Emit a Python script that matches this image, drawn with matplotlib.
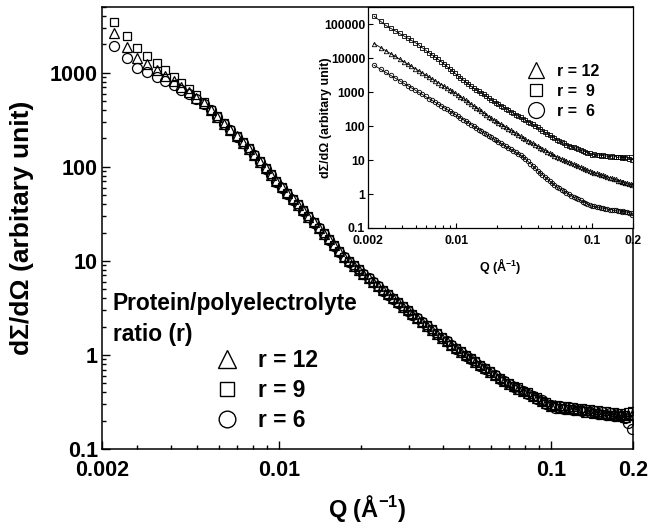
import matplotlib
matplotlib.use('Agg')
import matplotlib.pyplot as plt
from matplotlib.lines import Line2D
from matplotlib.ticker import FixedLocator, NullFormatter, NullLocator, LogLocator

plt.rcParams['font.family'] = ['Liberation Sans', 'DejaVu Sans']
plt.rcParams['font.weight'] = 'bold'
plt.rcParams['mathtext.fontset'] = 'custom'
plt.rcParams['mathtext.rm'] = 'Liberation Sans:bold'
plt.rcParams['mathtext.it'] = 'Liberation Sans:bold'
plt.rcParams['mathtext.bf'] = 'Liberation Sans:bold'

# ---------------- data ----------------
q = [0.00247, 0.00276, 0.00301, 0.00327, 0.00354, 0.00381, 0.00409, 0.00437, 0.00466, 0.00496,
     0.00527, 0.00559, 0.00592, 0.00626, 0.00661, 0.00697, 0.00734, 0.00772, 0.00811, 0.00851,
     0.00892, 0.00934, 0.00977, 0.0102, 0.0107, 0.0112, 0.0117, 0.0122, 0.0128, 0.0134,
     0.0140, 0.0146, 0.0152, 0.0159, 0.0166, 0.0173, 0.0180, 0.0188, 0.0196, 0.0204,
     0.0213, 0.0222, 0.0231, 0.0241, 0.0251, 0.0262, 0.0273, 0.0285, 0.0297, 0.0309,
     0.0322, 0.0336, 0.0350, 0.0365, 0.0380, 0.0396, 0.0413, 0.0430, 0.0448, 0.0467,
     0.0486, 0.0506, 0.0527, 0.0549, 0.0572, 0.0596, 0.0620, 0.0646, 0.0672, 0.0700,
     0.0729, 0.0758, 0.0789, 0.0821, 0.0854, 0.0888, 0.0923, 0.0960, 0.0998, 0.1037,
     0.1077, 0.1118, 0.1161, 0.1205, 0.1250, 0.1296, 0.1343, 0.1391, 0.1440, 0.1490,
     0.1541, 0.1593, 0.1646, 0.1700, 0.1755, 0.1810, 0.1866, 0.1923, 0.1980]

main_r12 = [2670, 1897, 1445, 1239, 1069, 931, 811, 708, 618, 543,
            479, 402, 338, 287, 246, 211, 181, 156, 133, 113,
            96, 82, 70, 60.5, 52.2, 45.2, 39.4, 34.5, 29.6, 25.6,
            22.3, 19.5, 16.9, 14.6, 12.6, 11.0, 9.86, 8.87, 8.04, 7.27,
            6.58, 5.96, 5.40, 4.89, 4.43, 4.00, 3.62, 3.27, 2.97, 2.72,
            2.47, 2.24, 2.04, 1.86, 1.69, 1.53, 1.40, 1.28, 1.175, 1.08,
            0.995, 0.92, 0.847, 0.78, 0.721, 0.664, 0.614, 0.565, 0.527, 0.495,
            0.466, 0.439, 0.413, 0.39, 0.367, 0.352, 0.321, 0.312, 0.286, 0.291,
            0.276, 0.281, 0.266, 0.274, 0.258, 0.265, 0.25, 0.258, 0.243, 0.252,
            0.236, 0.244, 0.229, 0.24, 0.224, 0.236, 0.219, 0.232, 0.228]

main_r9 = [3430, 2430, 1845, 1520, 1268, 1067, 904, 776, 665, 574,
           490, 405, 343, 290, 249, 214, 184, 158, 134, 114,
           97, 83, 71, 61, 52.7, 45.5, 39.8, 34.8, 29.9, 25.8,
           22.5, 19.7, 17.1, 14.7, 12.7, 11.1, 9.95, 8.95, 8.1, 7.33,
           6.63, 6.01, 5.45, 4.93, 4.47, 4.03, 3.65, 3.30, 3.00, 2.74,
           2.49, 2.26, 2.06, 1.88, 1.70, 1.54, 1.41, 1.29, 1.18, 1.09,
           1.00, 0.925, 0.852, 0.786, 0.726, 0.668, 0.618, 0.569, 0.531, 0.498,
           0.47, 0.452, 0.41, 0.40, 0.362, 0.356, 0.322, 0.318, 0.285, 0.296,
           0.274, 0.287, 0.266, 0.279, 0.258, 0.271, 0.251, 0.265, 0.243, 0.258,
           0.236, 0.251, 0.231, 0.246, 0.226, 0.243, 0.232, 0.248, 0.255]

main_r6 = [1905, 1422, 1130, 1012, 912, 826, 745, 662, 590, 527,
           468, 398, 336, 285, 244, 209, 180, 155, 132, 112,
           95, 81, 69, 60, 51.6, 44.8, 39.0, 34.1, 29.3, 25.3,
           22.1, 19.3, 16.7, 14.4, 12.5, 10.9, 9.76, 8.78, 7.96, 7.20,
           6.51, 5.90, 5.35, 4.84, 4.39, 3.96, 3.58, 3.24, 2.94, 2.69,
           2.45, 2.22, 2.02, 1.84, 1.67, 1.52, 1.39, 1.27, 1.16, 1.07,
           0.985, 0.91, 0.838, 0.772, 0.714, 0.657, 0.608, 0.559, 0.522, 0.49,
           0.46, 0.435, 0.409, 0.386, 0.362, 0.34, 0.331, 0.301, 0.295, 0.276,
           0.284, 0.268, 0.277, 0.26, 0.268, 0.252, 0.261, 0.245, 0.254, 0.238,
           0.246, 0.231, 0.241, 0.226, 0.236, 0.222, 0.215, 0.19, 0.165]

inset_r12 = [26900, 20560, 16600, 13580, 11220, 9370, 7870, 6730, 5750, 4940,
             4250, 3690, 3210, 2790, 2450, 2150, 1890, 1670, 1490, 1320,
             1180, 1055, 942, 841, 738, 649, 574, 511, 446, 392,
             347, 308, 274, 243, 215, 191, 172, 155, 139, 126,
             114, 103, 92.7, 83.7, 75.6, 68.3, 61.7, 55.4, 50.0, 45.4,
             41.3, 37.6, 34.2, 31.1, 28.3, 25.8, 23.4, 21.5, 19.5, 17.8,
             16.2, 14.8, 13.5, 12.4, 11.6, 10.8, 10.1, 9.4, 8.79, 8.19,
             7.64, 7.2, 6.62, 6.3, 5.8, 5.52, 5.07, 4.85, 4.44, 4.3,
             4.02, 3.92, 3.63, 3.56, 3.29, 3.24, 3.0, 2.97, 2.74, 2.72,
             2.5, 2.49, 2.29, 2.3, 2.11, 2.12, 1.94, 1.96, 1.8]

inset_r9 = [172000, 121500, 92300, 76000, 63400, 53400, 45200, 38800, 33300, 28700,
            24500, 20300, 17200, 14500, 12500, 10700, 9200, 7900, 6700, 5700,
            4850, 4150, 3550, 3050, 2640, 2280, 1990, 1740, 1500, 1290,
            1170, 1064, 958, 853, 749, 666, 597, 537, 486, 440,
            398, 361, 327, 296, 268, 242, 219, 198, 180, 164,
            149, 136, 124, 113, 102, 90.9, 81.8, 73.5, 66.1, 60.0,
            54.0, 49.0, 44.3, 40.1, 36.3, 33.4, 30.9, 28.5, 26.6, 24.9,
            23.5, 22.2, 20.8, 19.7, 18.5, 17.8, 16.2, 15.9, 14.4, 14.7,
            13.8, 14.2, 13.3, 13.8, 12.9, 13.4, 12.6, 13.1, 12.2, 12.7,
            11.9, 12.4, 11.6, 12.1, 11.3, 11.9, 11.1, 11.9, 10.3]

inset_r6 = [6170, 4720, 3820, 3130, 2580, 2160, 1820, 1556, 1330, 1145,
            984, 857, 745, 648, 570, 501, 441, 390, 347, 309,
            276, 247, 221, 198, 176, 156, 140, 126, 111, 98.6,
            88.1, 79.2, 71.1, 63.6, 56.9, 51.1, 46.2, 41.7, 37.7, 34.1,
            30.8, 27.9, 25.2, 22.8, 20.7, 18.7, 16.9, 15.2, 13.7, 12.5,
            10.8, 9.2, 7.85, 6.71, 5.73, 4.92, 4.27, 3.73, 3.24, 2.81,
            2.43, 2.12, 1.84, 1.61, 1.47, 1.33, 1.21, 1.10, 0.998, 0.904,
            0.82, 0.765, 0.696, 0.655, 0.594, 0.561, 0.507, 0.48, 0.433, 0.43,
            0.409, 0.408, 0.386, 0.386, 0.366, 0.366, 0.347, 0.348, 0.33, 0.333,
            0.316, 0.32, 0.305, 0.308, 0.293, 0.297, 0.282, 0.276, 0.245]

labels_main = ['r = 12', 'r = 9', 'r = 6']
labels_inset = ['r = 12', 'r =  9', 'r =  6']
legend_title = 'Protein/polyelectrolyte\nratio (r)'

x_major = [0.00223, 0.01, 0.1, 0.2]
x_major_labels = ['0.002', '0.01', '0.1', '0.2']
x_minor = [0.003, 0.004, 0.005, 0.006, 0.007, 0.008, 0.009,
           0.02, 0.03, 0.04, 0.05, 0.06, 0.07, 0.08, 0.09]
main_y_ticks = [0.1, 1, 10, 100, 1000]
main_y_labels = ['0.1', '1', '10', '100', '1000']
inset_y_ticks = [0.1, 1, 10, 100, 1000, 10000, 100000]
inset_y_labels = ['0.1', '1', '10', '100', '1000', '10000', '100000']

# ---------------- figure ----------------
W, H = 648, 529
fig = plt.figure(figsize=(W / 100, H / 100), dpi=100)

def fx(px):
    return px / W

def fy(py):
    return 1 - py / H

ax = fig.add_axes([fx(102), fy(449), 531 / W, 442 / H])

mk = dict(ls='none', mfc='none', mec='black')
ax.plot(q, main_r6, marker='o', ms=7.2, mew=0.9, **mk)
ax.plot(q, main_r12, marker='^', ms=7.2, mew=0.9, **mk)
ax.plot(q, main_r9, marker='s', ms=6.0, mew=0.9, **mk)

ax.set_xscale('log')
ax.set_yscale('log')
ax.set_xlim(0.00223, 0.2)
ax.set_ylim(0.1, 5000)

ax.xaxis.set_major_locator(FixedLocator(x_major))
ax.set_xticklabels(x_major_labels)
ax.xaxis.set_minor_locator(FixedLocator(x_minor))
ax.xaxis.set_minor_formatter(NullFormatter())
ax.yaxis.set_major_locator(FixedLocator(main_y_ticks))
ax.set_yticklabels(main_y_labels)
ax.yaxis.set_minor_locator(LogLocator(base=10, subs=[2, 3, 4, 5, 6, 7, 8, 9], numticks=20))
ax.yaxis.set_minor_formatter(NullFormatter())
ax.tick_params(which='both', direction='in', top=False, right=False, width=1.0)
ax.tick_params(which='major', length=6, labelsize=15.5)
ax.tick_params(which='minor', length=3.2)
ax.tick_params(axis='x', which='major', pad=8)
ax.tick_params(axis='y', which='major', pad=3)
for s in ax.spines.values():
    s.set_linewidth(1.1)

ax.set_ylabel('dΣ/dΩ (arbitary unit)', fontsize=19, fontweight='bold')
ax.yaxis.set_label_coords(-0.128, 0.5)
ax.set_xlabel(r'Q (Å$^{-1}$)', fontsize=17, fontweight='bold', va='top')
ax.xaxis.set_label_coords(0.5, -0.10)

# main legend
h_main = [Line2D([], [], ls='none', marker='^', ms=13.5, mfc='none', mec='black', mew=1.0),
          Line2D([], [], ls='none', marker='s', ms=10.0, mfc='none', mec='black', mew=1.0),
          Line2D([], [], ls='none', marker='o', ms=12.0, mfc='none', mec='black', mew=1.0)]
ax.legend(h_main, labels_main, loc='upper left', bbox_to_anchor=(fx(216), fy(349)),
          bbox_transform=fig.transFigure, frameon=False, fontsize=16.4,
          handlelength=1.0, handletextpad=0.85, labelspacing=0.3,
          borderpad=0, borderaxespad=0)
fig.text(fx(113), fy(292), legend_title, ha='left', va='top', fontsize=16.4,
         fontweight='bold', linespacing=1.45)

# ---------------- inset ----------------
axin = fig.add_axes([fx(368), fy(228), 265 / W, 221 / H])
axin.set_facecolor('white')
lk = dict(color='black', lw=0.6, mfc='none', mec='black', mew=0.6)
axin.plot(q, inset_r9, marker='s', ms=3.0, **lk)
axin.plot(q, inset_r12, marker='^', ms=3.2, **lk)
axin.plot(q, inset_r6, marker='o', ms=3.2, **lk)
axin.set_xscale('log')
axin.set_yscale('log')
axin.set_xlim(0.00223, 0.2)
axin.set_ylim(0.1, 3.2e5)
axin.xaxis.set_major_locator(FixedLocator(x_major))
axin.set_xticklabels(x_major_labels)
axin.xaxis.set_minor_locator(FixedLocator(x_minor))
axin.xaxis.set_minor_formatter(NullFormatter())
axin.yaxis.set_major_locator(FixedLocator(inset_y_ticks))
axin.set_yticklabels(inset_y_labels)
axin.yaxis.set_minor_locator(NullLocator())
axin.tick_params(which='both', direction='in', top=False, right=False, width=0.8)
axin.tick_params(which='major', length=3.5, labelsize=8.8)
axin.tick_params(axis='x', which='major', pad=5)
axin.tick_params(axis='y', which='major', pad=2)
axin.tick_params(which='minor', length=2)
for s in axin.spines.values():
    s.set_linewidth(0.9)
axin.set_ylabel('dΣ/dΩ (arbitary unit)', fontsize=9, fontweight='bold')
axin.yaxis.set_label_coords(-0.135, 0.5)
axin.set_xlabel(r'Q (Å$^{-1}$)', fontsize=9, fontweight='bold', va='top')
axin.xaxis.set_label_coords(0.5, -0.125)

h_in = [Line2D([], [], ls='none', marker='^', ms=12.0, mfc='none', mec='black', mew=0.9),
        Line2D([], [], ls='none', marker='s', ms=8.6, mfc='none', mec='black', mew=0.9),
        Line2D([], [], ls='none', marker='o', ms=11.5, mfc='none', mec='black', mew=0.9)]
axin.legend(h_in, labels_inset, loc='upper left', bbox_to_anchor=(fx(527), fy(64)),
            bbox_transform=fig.transFigure, frameon=False, fontsize=11.5,
            handlelength=1.1, handletextpad=0.75, labelspacing=0.31,
            borderpad=0, borderaxespad=0)

fig.savefig('out.png', dpi=100)
